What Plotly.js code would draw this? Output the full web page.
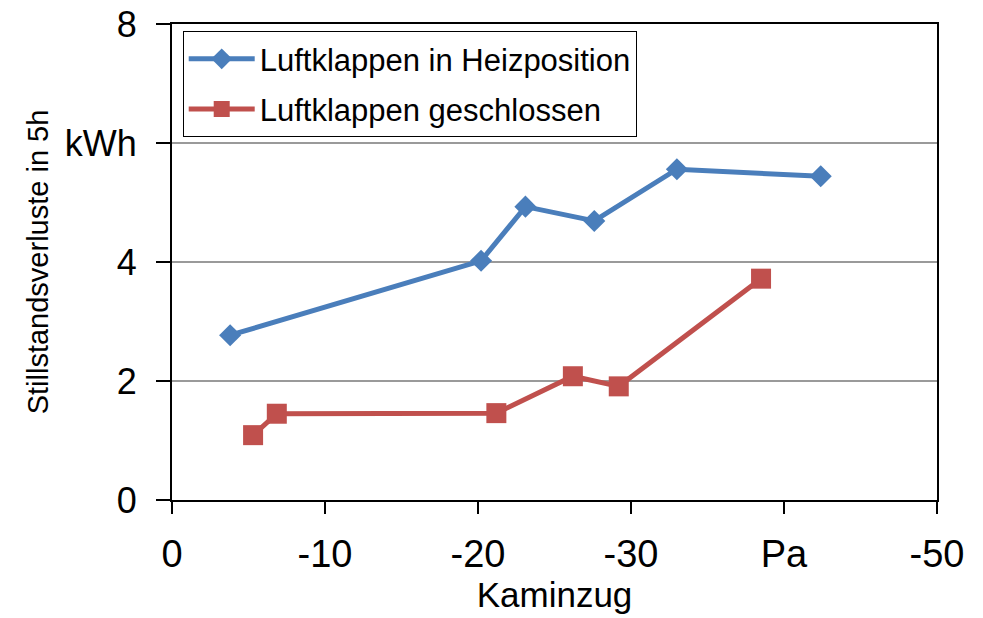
<!DOCTYPE html>
<html>
<head>
<meta charset="utf-8">
<script src="https://cdn.plot.ly/plotly-3.0.1.min.js"></script>
<style>html,body{margin:0;padding:0;background:#fff;}#chart{width:983px;height:618px;}</style>
</head>
<body>
<div id="chart"></div>
<script>
// Data
const seriesNames = ["Luftklappen in Heizposition", "Luftklappen geschlossen"];
const heizX = [-3.8, -20.2, -23.1, -27.6, -33.0, -42.4];
const heizY = [2.77, 4.02, 4.93, 4.69, 5.56, 5.44];
const geschlX = [-5.3, -6.85, -21.2, -26.2, -29.2, -38.5];
const geschlY = [1.09, 1.45, 1.46, 2.08, 1.91, 3.72];
const xTickVals = [0, -10, -20, -30, -40, -50];
const xTickText = ["0", "-10", "-20", "-30", "Pa", "-50"];
const yTickVals = [0, 2, 4, 6, 8];
const yTickText = ["0", "2", "4", "kWh", "8"];
const xTitle = "Kaminzug";
const yTitle = "Stillstandsverluste in 5h";

const FONT = "Liberation Sans, Arial, sans-serif";

const traces = [
  {
    x: heizX, y: heizY, name: seriesNames[0], type: "scatter", mode: "lines+markers",
    line: {color: "#4A7EBB", width: 5},
    marker: {symbol: "diamond", size: 17, color: "#4A7EBB"},
    legendgroup: "a"
  },
  {
    x: geschlX, y: geschlY, name: seriesNames[1], type: "scatter", mode: "lines+markers",
    line: {color: "#C0504D", width: 5},
    marker: {symbol: "square", size: 20, color: "#C0504D"},
    legendgroup: "b"
  }
];

const layout = {
  width: 983, height: 618,
  margin: {l: 172, r: 46, t: 24, b: 118},
  paper_bgcolor: "#fff", plot_bgcolor: "#fff",
  font: {family: FONT, color: "#000"},
  showlegend: true,
  legend: {
    x: 0.014, y: 0.985, xanchor: "left", yanchor: "top",
    bgcolor: "#fff", bordercolor: "#000", borderwidth: 1,
    font: {family: FONT, size: 31, color: "#000"},
    traceorder: "grouped", tracegroupgap: 7,
    itemwidth: 66,
    entrywidth: 470, entrywidthmode: "pixels"
  },
  xaxis: {
    range: [0, -50],
    tickvals: xTickVals, ticktext: xTickText,
    showgrid: false, zeroline: false,
    showline: true, linecolor: "#000", linewidth: 2, mirror: true,
    ticks: "outside", ticklen: 12, tickwidth: 2, tickcolor: "#000",
    tickfont: {family: FONT, size: 38, color: "#000"},
    ticklabelstandoff: 7,
    title: {text: xTitle, font: {family: FONT, size: 35, color: "#000"}, standoff: 4}
  },
  yaxis: {
    range: [0, 8],
    tickvals: yTickVals, ticktext: yTickText,
    showgrid: true, gridcolor: "#9a9a9a", gridwidth: 1.5,
    zeroline: false,
    showline: true, linecolor: "#000", linewidth: 2, mirror: true,
    ticks: "outside", ticklen: 14, tickwidth: 2, tickcolor: "#000",
    tickfont: {family: FONT, size: 36, color: "#000"},
    ticklabelstandoff: 12,
    title: {text: yTitle, font: {family: FONT, size: 29, color: "#000"}, standoff: 8}
  }
};

Plotly.newPlot("chart", traces, layout, {displayModeBar: false, staticPlot: true});
</script>
</body>
</html>
